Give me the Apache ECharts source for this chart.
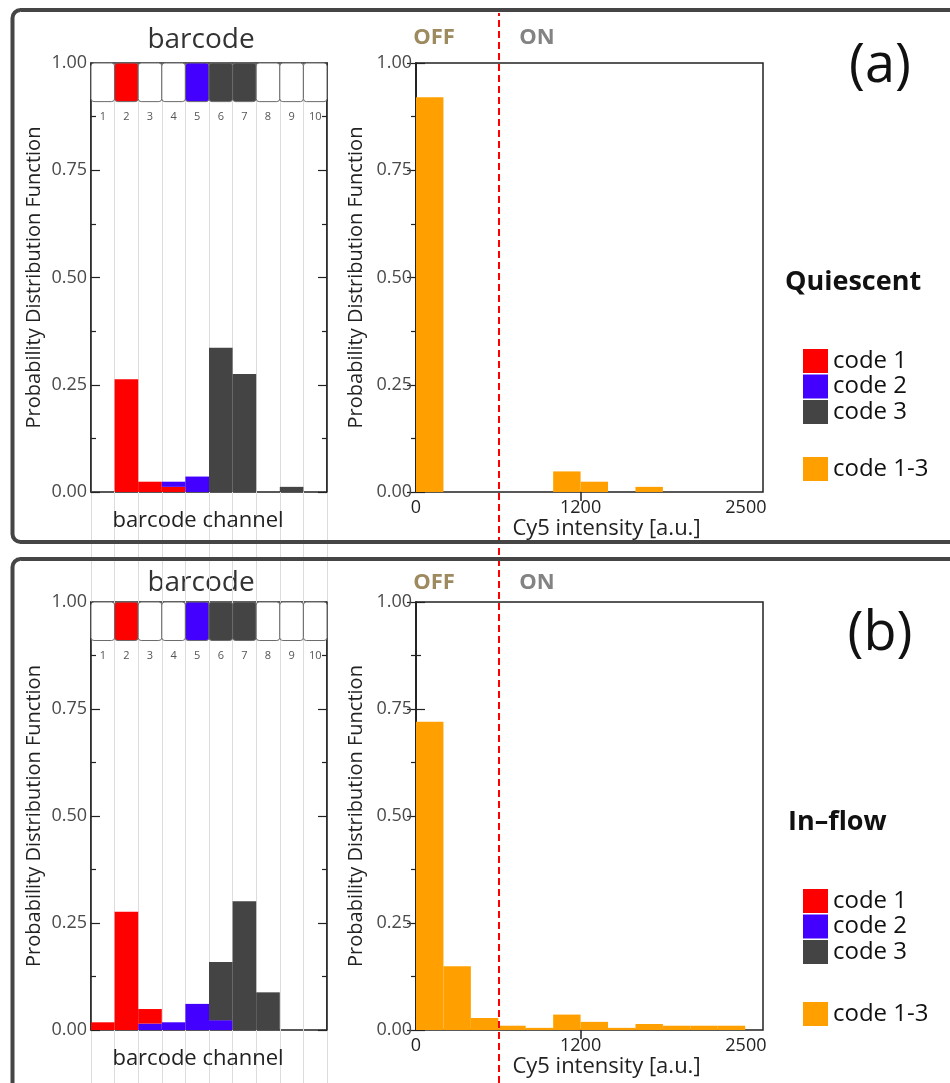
<!DOCTYPE html>
<html>
<head>
<meta charset="utf-8">
<script src="https://cdn.jsdelivr.net/npm/echarts@6/dist/echarts.min.js"></script>
<style>
  html, body { margin: 0; padding: 0; background: #fff; }
  #chart { width: 950px; height: 1083px; }
</style>
</head>
<body>
<div id="chart"></div>
<script>
const channels = ['1', '2', '3', '4', '5', '6', '7', '8', '9', '10']
// which code each barcode channel belongs to (0 = unused)
const stripCode = [0, 1, 0, 0, 2, 3, 3, 0, 0, 0]

// (a) quiescent, barcode channel PDF per code
const aCode1 = [0, 0.263, 0.024, 0.012, 0, 0, 0, 0, 0, 0]
const aCode2 = [0, 0, 0, 0.012, 0.036, 0, 0, 0, 0, 0]
const aCode3 = [0, 0, 0, 0, 0, 0.336, 0.275, 0, 0.012, 0]
// (b) in-flow
const bCode1 = [0.018, 0.276, 0.034, 0, 0, 0, 0, 0, 0, 0]
const bCode2 = [0, 0, 0.015, 0.018, 0.061, 0.023, 0, 0, 0, 0]
const bCode3 = [0, 0, 0, 0, 0, 0.136, 0.301, 0.088, 0, 0]

// Cy5 intensity histograms, 200 a.u. bins
const binStarts = [0, 200, 400, 600, 800, 1000, 1200, 1400, 1600, 1800, 2000, 2200]
const aCy5 = [0.92, 0, 0, 0, 0, 0.048, 0.024, 0, 0.012, 0, 0, 0]
const bCy5 = [0.72, 0.149, 0.028, 0.010, 0.005, 0.036, 0.019, 0.005, 0.014, 0.010, 0.010, 0.010]
const cy5Ticks = [0, 1200, 2500]
const cy5Max = 2530
const binWidth = 200
const threshold = 600

const codeColors = ['#ffffff', '#ff0000', '#4400ff', '#444444']
const orange = '#ffa000'
const font = 'Open Sans'

const top1 = 63, h1 = 429
const top2 = 602, h2 = 428

var chart = echarts.init(document.getElementById('chart'))

function renderStrip(params, api) {
  var i = api.value(0)
  var code = api.value(1)
  var p0 = api.coord([i, 1])
  var p1 = api.coord([i, 0.91])
  var w = api.size([1, 0])[0]
  return {
    type: 'rect',
    shape: { x: p0[0] - w / 2, y: p0[1], width: w, height: p1[1] - p0[1], r: 3 },
    style: { fill: codeColors[code], stroke: '#6a6a6a', lineWidth: 1 }
  }
}

function renderBin(params, api) {
  var x0 = api.value(0)
  var v = api.value(1)
  var p0 = api.coord([x0, v])
  var p1 = api.coord([x0 + binWidth, 0])
  return {
    type: 'rect',
    shape: { x: p0[0], y: p0[1], width: p1[0] - p0[0], height: p1[1] - p0[1] },
    style: { fill: orange }
  }
}

const tickStyle = { color: '#222', width: 1.2 }

function yAxes(gridIndex) {
  var tick = { show: true, inside: true, length: 9, lineStyle: tickStyle }
  var minor = { show: true, splitNumber: 2, length: 5, lineStyle: tickStyle }
  return [
    {
      gridIndex: gridIndex, type: 'value', min: 0, max: 1, interval: 0.25,
      name: 'Probability Distribution Function', nameLocation: 'middle',
      nameGap: gridIndex % 2 == 1 ? 47 : 50,
      nameTextStyle: { fontSize: 20, color: '#222', fontFamily: font },
      axisLine: { show: true, lineStyle: { color: '#222', width: 1.5 } },
      axisTick: tick, minorTick: minor, splitLine: { show: false },
      axisLabel: { fontSize: 18, color: '#4a4a4a', margin: 4, fontFamily: font, formatter: (v) => v.toFixed(2) }
    },
    {
      gridIndex: gridIndex, type: 'value', min: 0, max: 1, interval: 0.25, position: 'right',
      axisLine: { show: true, lineStyle: { color: '#222', width: 1.5 } },
      axisTick: tick, minorTick: minor, splitLine: { show: false },
      axisLabel: { show: false }
    }
  ]
}

function barcodeXAxes(gridIndex) {
  return [
    {
      gridIndex: gridIndex, type: 'category', data: channels, position: 'bottom',
      name: 'barcode channel', nameLocation: 'middle', nameGap: 18,
      nameTextStyle: { fontSize: 22, color: '#222', fontFamily: font, padding: [0, 22, 0, 0] },
      axisLine: { show: false }, axisTick: { show: false }, axisLabel: { show: false }
    },
    {
      gridIndex: gridIndex, type: 'category', data: channels, position: 'top',
      axisLine: { show: false }, axisTick: { show: false },
      axisLabel: { inside: true, margin: 48, fontSize: 11, color: '#555', fontFamily: font, interval: 0 }
    }
  ]
}

function cy5XAxes(gridIndex) {
  return [
    {
      gridIndex: gridIndex, type: 'value', min: 0, max: cy5Max, position: 'bottom',
      name: 'Cy5 intensity [a.u.]', nameLocation: 'middle', nameGap: 26,
      nameTextStyle: { fontSize: 22, color: '#222', fontFamily: font, padding: [0, 0, 0, 34] },
      axisLine: { show: false }, axisTick: { show: false }, splitLine: { show: false },
      axisLabel: {
        customValues: cy5Ticks, fontSize: 18, color: '#222', margin: 7, fontFamily: font,
        formatter: (v) => v == 2500 ? '{r|2500}' : String(v),
        rich: { r: { fontSize: 18, color: '#222', fontFamily: font, padding: [0, 26, 0, 0] } }
      }
    },
    {
      gridIndex: gridIndex, type: 'value', min: 0, max: cy5Max, position: 'top',
      axisLine: { show: false }, splitLine: { show: false }, axisLabel: { show: false },
      axisTick: { show: true, inside: true, length: 9, customValues: [1200], lineStyle: { color: '#222', width: 1.5 } }
    }
  ]
}

const frameGrid = { show: true, borderColor: '#222', borderWidth: 1.5, backgroundColor: 'transparent' }
const legendText = { fontSize: 24, color: '#111', fontFamily: font }

const option = {
  backgroundColor: '#fff',
  animation: false,
  textStyle: { fontFamily: font },
  grid: [
    { left: 91, top: 101, width: 236, height: 982 },
    Object.assign({ left: 91, top: top1, width: 236, height: h1 }, frameGrid),
    Object.assign({ left: 416, top: top1, width: 347, height: h1 }, frameGrid),
    Object.assign({ left: 91, top: top2, width: 236, height: h2 }, frameGrid),
    Object.assign({ left: 416, top: top2, width: 347, height: h2 }, frameGrid),
    { left: 416, top: 13, width: 347, height: 1070 }
  ],
  xAxis: [
    {
      gridIndex: 0, type: 'category', data: channels,
      axisLine: { show: false }, axisTick: { show: false }, axisLabel: { show: false },
      splitLine: { show: true, interval: 0, lineStyle: { color: '#dcdcdc', width: 1 } }
    },
    ...barcodeXAxes(1),
    ...cy5XAxes(2),
    ...barcodeXAxes(3),
    ...cy5XAxes(4),
    { gridIndex: 5, type: 'value', min: 0, max: cy5Max, show: false }
  ],
  yAxis: [
    { gridIndex: 0, type: 'value', min: 0, max: 1, show: false },
    ...yAxes(1),
    ...yAxes(2),
    ...yAxes(3),
    ...yAxes(4),
    { gridIndex: 5, type: 'value', min: 0, max: 1, show: false }
  ],
  legend: [
    {
      data: ['code 1', 'code 2', 'code 3'], orient: 'vertical', left: 798, top: 344,
      icon: 'rect', itemWidth: 25, itemHeight: 24, itemGap: 1.5, selectedMode: false, textStyle: legendText
    },
    {
      data: ['code 1-3'], orient: 'vertical', left: 798, top: 452,
      icon: 'rect', itemWidth: 25, itemHeight: 24, selectedMode: false, textStyle: legendText
    },
    {
      data: ['code 1', 'code 2', 'code 3'], orient: 'vertical', left: 798, top: 884,
      icon: 'rect', itemWidth: 25, itemHeight: 24, itemGap: 1.5, selectedMode: false, textStyle: legendText
    },
    {
      data: ['code 1-3'], orient: 'vertical', left: 798, top: 997,
      icon: 'rect', itemWidth: 25, itemHeight: 24, selectedMode: false, textStyle: legendText
    }
  ],
  series: [
    // barcode strips
    {
      type: 'custom', xAxisIndex: 1, yAxisIndex: 1, renderItem: renderStrip, silent: true, z: 3,
      data: stripCode.map((c, i) => [i, c])
    },
    {
      type: 'custom', xAxisIndex: 5, yAxisIndex: 5, renderItem: renderStrip, silent: true, z: 3,
      data: stripCode.map((c, i) => [i, c])
    },
    // (a) barcode channel histogram
    { name: 'code 1', type: 'bar', xAxisIndex: 1, yAxisIndex: 1, stack: 'a', barCategoryGap: 0, data: aCode1, itemStyle: { color: codeColors[1] } },
    { name: 'code 2', type: 'bar', xAxisIndex: 1, yAxisIndex: 1, stack: 'a', barCategoryGap: 0, data: aCode2, itemStyle: { color: codeColors[2] } },
    { name: 'code 3', type: 'bar', xAxisIndex: 1, yAxisIndex: 1, stack: 'a', barCategoryGap: 0, data: aCode3, itemStyle: { color: codeColors[3] } },
    // (b)
    { name: 'code 2', type: 'bar', xAxisIndex: 5, yAxisIndex: 5, stack: 'b', barCategoryGap: 0, data: bCode2, itemStyle: { color: codeColors[2] } },
    { name: 'code 1', type: 'bar', xAxisIndex: 5, yAxisIndex: 5, stack: 'b', barCategoryGap: 0, data: bCode1, itemStyle: { color: codeColors[1] } },
    { name: 'code 3', type: 'bar', xAxisIndex: 5, yAxisIndex: 5, stack: 'b', barCategoryGap: 0, data: bCode3, itemStyle: { color: codeColors[3] } },
    // Cy5 intensity
    {
      name: 'code 1-3', type: 'custom', xAxisIndex: 3, yAxisIndex: 3, renderItem: renderBin,
      itemStyle: { color: orange }, data: binStarts.map((s, i) => [s, aCy5[i]])
    },
    {
      name: 'code 1-3', type: 'custom', xAxisIndex: 7, yAxisIndex: 7, renderItem: renderBin,
      itemStyle: { color: orange }, data: binStarts.map((s, i) => [s, bCy5[i]])
    },
    // OFF / ON threshold
    {
      type: 'line', xAxisIndex: 9, yAxisIndex: 9, data: [[threshold, 0]], showSymbol: false, z: 200,
      lineStyle: { opacity: 0 },
      markLine: {
        silent: true, symbol: 'none', label: { show: false },
        lineStyle: { color: '#ff0000', type: [7, 4], width: 2 },
        data: [{ xAxis: threshold }]
      }
    }
  ],
  graphic: [
    { type: 'rect', z: 100, shape: { x: 12.5, y: 10, width: 980, height: 532, r: 8 }, style: { fill: 'none', stroke: '#454545', lineWidth: 4 } },
    { type: 'rect', z: 100, shape: { x: 12.5, y: 559, width: 980, height: 600, r: 8 }, style: { fill: 'none', stroke: '#454545', lineWidth: 4 } },
    { type: 'text', x: 201, y: 40, style: { text: 'barcode', fontSize: 28, fill: '#333', fontFamily: font, align: 'center', verticalAlign: 'middle' } },
    { type: 'text', x: 201, y: 583, style: { text: 'barcode', fontSize: 28, fill: '#333', fontFamily: font, align: 'center', verticalAlign: 'middle' } },
    { type: 'text', x: 434, y: 38, style: { text: 'OFF', fontSize: 22, fontWeight: 'bold', fill: '#9d8b5f', fontFamily: font, align: 'center', verticalAlign: 'middle' } },
    { type: 'text', x: 537, y: 38, style: { text: 'ON', fontSize: 22, fontWeight: 'bold', fill: '#838383', fontFamily: font, align: 'center', verticalAlign: 'middle' } },
    { type: 'text', x: 434, y: 583, style: { text: 'OFF', fontSize: 22, fontWeight: 'bold', fill: '#9d8b5f', fontFamily: font, align: 'center', verticalAlign: 'middle' } },
    { type: 'text', x: 537, y: 583, style: { text: 'ON', fontSize: 22, fontWeight: 'bold', fill: '#838383', fontFamily: font, align: 'center', verticalAlign: 'middle' } },
    { type: 'text', x: 880, y: 67, style: { text: '(a)', fontSize: 54, fill: '#111', fontFamily: font, align: 'center', verticalAlign: 'middle' } },
    { type: 'text', x: 880, y: 635, style: { text: '(b)', fontSize: 54, fill: '#111', fontFamily: font, align: 'center', verticalAlign: 'middle' } },
    { type: 'text', x: 785, y: 282, style: { text: 'Quiescent', fontSize: 27, fontWeight: 'bold', fill: '#111', fontFamily: font, verticalAlign: 'middle' } },
    { type: 'text', x: 788, y: 822, style: { text: 'In\u2013flow', fontSize: 27, fontWeight: 'bold', fill: '#111', fontFamily: font, verticalAlign: 'middle' } }
  ]
}

chart.setOption(option)
</script>
</body>
</html>
